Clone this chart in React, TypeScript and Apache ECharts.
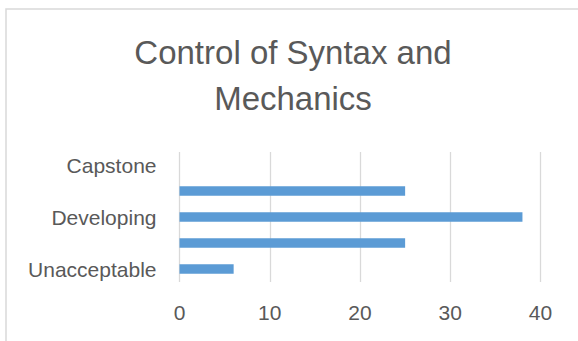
import React, { useEffect, useRef } from "react";
import * as echarts from "echarts";

// Rubric levels, bottom to top; only every other name is printed on the axis
const categories = ["Unacceptable", "Emerging", "Developing", "Proficient", "Capstone"];
const counts = [6, 25, 38, 25, 0];
const xTicks = { min: 0, max: 40, interval: 10 };

const titleText = "Control of Syntax and\nMechanics";

const FONT = "'Liberation Sans', Arial, sans-serif";
const TEXT = "#595959";
const GRID = "#d9d9d9";
const BAR = "#5b9bd5";

export default function App() {
  const ref = useRef<HTMLDivElement>(null);

  useEffect(() => {
    if (!ref.current) return;
    const chart = echarts.init(ref.current, undefined, { renderer: "svg" });
    chart.setOption({
      animation: false,
      backgroundColor: "#ffffff",
      textStyle: { fontFamily: FONT },
      title: {
        text: titleText,
        left: 293,
        top: 29,
        textAlign: "center",
        padding: 0,
        textStyle: {
          fontFamily: FONT,
          fontSize: 33,
          fontWeight: "normal",
          color: TEXT,
          lineHeight: 46,
        },
      },
      graphic: [
        {
          type: "rect",
          shape: { x: 6, y: 9, width: 700, height: 500 },
          style: { fill: "none", stroke: GRID, lineWidth: 1.5 },
          silent: true,
        },
      ],
      grid: { left: 179.5, right: 37.5, top: 152, bottom: 59, containLabel: false },
      xAxis: {
        type: "value",
        min: xTicks.min,
        max: xTicks.max,
        interval: xTicks.interval,
        axisLine: { show: false },
        axisTick: { show: false },
        splitLine: { show: true, lineStyle: { color: GRID, width: 1.3 } },
        axisLabel: { color: TEXT, fontSize: 21, fontFamily: FONT, margin: 20 },
      },
      yAxis: {
        type: "category",
        data: categories,
        axisLine: { show: false },
        axisTick: { show: false },
        splitLine: { show: false },
        axisLabel: { color: TEXT, fontSize: 21, fontFamily: FONT, margin: 23, interval: 1 },
      },
      series: [
        {
          type: "bar",
          data: counts,
          barWidth: "36%",
          itemStyle: { color: BAR },
        },
      ],
    });
    return () => chart.dispose();
  }, []);

  return (
    <div
      ref={ref}
      style={{ position: "absolute", left: 0, top: 0, width: 578, height: 341 }}
    />
  );
}
